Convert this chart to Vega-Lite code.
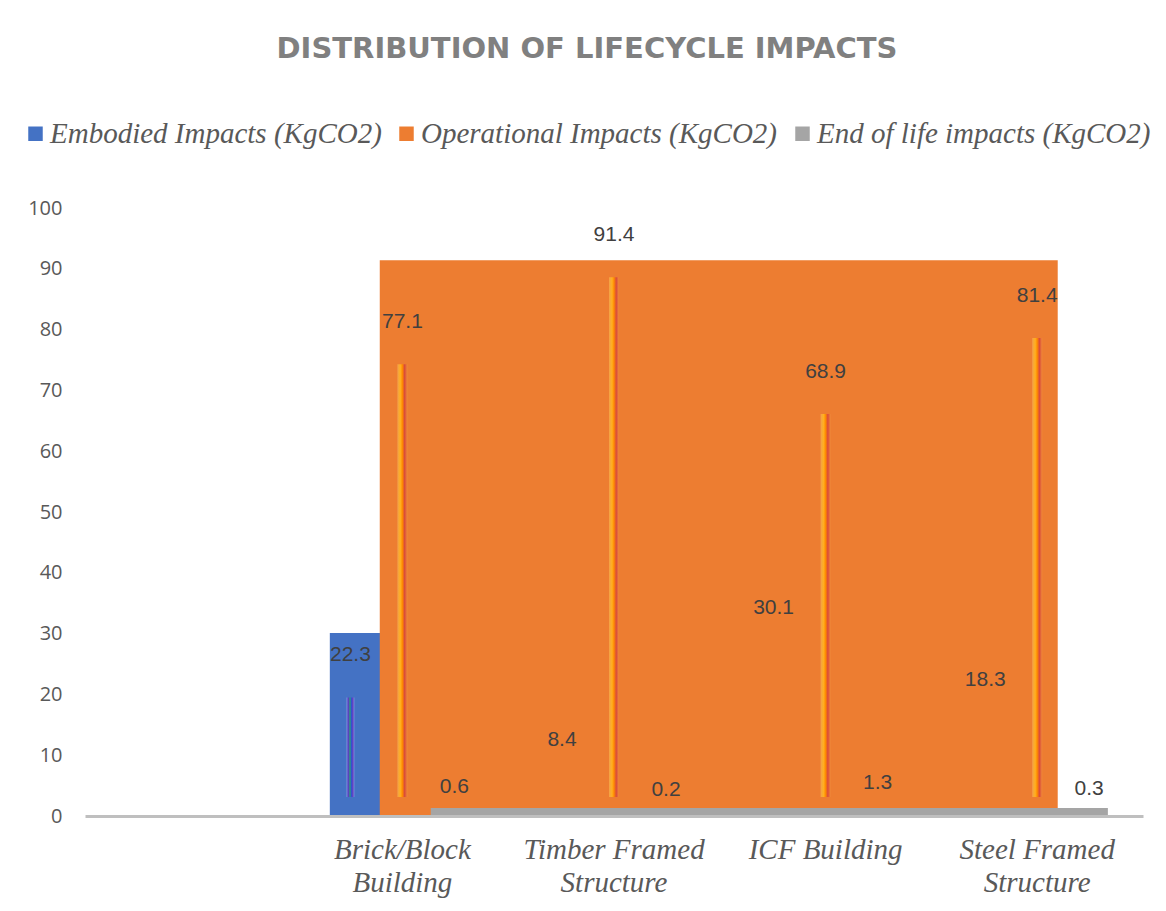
{
  "$schema": "https://vega.github.io/schema/vega-lite/v6.json",
  "width": 1058,
  "height": 608,
  "autosize": {"type": "none"},
  "padding": {"left": 85, "top": 208, "right": 23, "bottom": 95},
  "background": "white",
  "title": {
    "text": "DISTRIBUTION OF LIFECYCLE IMPACTS",
    "font": "DejaVu Sans",
    "fontSize": 29,
    "fontWeight": "bold",
    "color": "#808080",
    "anchor": "middle",
    "dx": -27,
    "offset": 55
  },
  "data": {
    "values": [
      {"building": "Brick/Block Building", "series": "Embodied Impacts (KgCO2)", "value": 22.3},
      {"building": "Brick/Block Building", "series": "Operational Impacts (KgCO2)", "value": 77.1},
      {"building": "Brick/Block Building", "series": "End of life impacts (KgCO2)", "value": 0.6},
      {"building": "Timber Framed Structure", "series": "Embodied Impacts (KgCO2)", "value": 8.4},
      {"building": "Timber Framed Structure", "series": "Operational Impacts (KgCO2)", "value": 91.4},
      {"building": "Timber Framed Structure", "series": "End of life impacts (KgCO2)", "value": 0.2},
      {"building": "ICF Building", "series": "Embodied Impacts (KgCO2)", "value": 30.1},
      {"building": "ICF Building", "series": "Operational Impacts (KgCO2)", "value": 68.9},
      {"building": "ICF Building", "series": "End of life impacts (KgCO2)", "value": 1.3},
      {"building": "Steel Framed Structure", "series": "Embodied Impacts (KgCO2)", "value": 18.3},
      {"building": "Steel Framed Structure", "series": "Operational Impacts (KgCO2)", "value": 81.4},
      {"building": "Steel Framed Structure", "series": "End of life impacts (KgCO2)", "value": 0.3}
    ]
  },
  "config": {
    "view": {"stroke": null},
    "axisX": {
      "ticks": false, "grid": false, "domainColor": "#BFBFBF", "domainWidth": 3,
      "labelAngle": 0, "labelFont": "Liberation Serif", "labelFontStyle": "italic",
      "labelFontSize": 29, "labelColor": "#595959", "labelPadding": 19, "labelLineHeight": 33,
      "labelLimit": 400
    },
    "axisY": {
      "ticks": false, "grid": false, "domain": false, "labelPadding": 23,
      "labelFont": "Open Sans", "labelFontSize": 20, "labelColor": "#595959"
    },
    "legend": {
      "orient": "none", "legendX": -64, "legendY": -89, "direction": "horizontal",
      "symbolType": "square", "symbolSize": 210, "symbolStrokeWidth": 0,
      "labelFont": "Liberation Serif", "labelFontStyle": "italic", "labelFontSize": 29,
      "labelColor": "#595959", "labelLimit": 600, "columnPadding": 10, "labelOffset": 0
    }
  },
  "layer": [
    {
      "transform": [
        {"filter": "datum.series === 'Embodied Impacts (KgCO2)'"},
        {"aggregate": [{"op": "max", "field": "value", "as": "maxv"}], "groupby": ["series"]}
      ],
      "mark": {"type": "rect"},
      "encoding": {
        "x": {"datum": "Brick/Block Building", "type": "nominal", "bandPosition": 0.157,
              "scale": {"domain": ["", "Brick/Block Building", "Timber Framed Structure", "ICF Building", "Steel Framed Structure"], "paddingInner": 0, "paddingOuter": 0},
              "axis": {"title": null, "labelExpr": "datum.value == 'Brick/Block Building' ? ['Brick/Block', 'Building'] : datum.value == 'Timber Framed Structure' ? ['Timber Framed', 'Structure'] : datum.value == 'Steel Framed Structure' ? ['Steel Framed', 'Structure'] : datum.value"}},
        "x2": {"datum": "Steel Framed Structure", "bandPosition": 0.361},
        "y": {"field": "maxv", "type": "quantitative", "scale": {"domain": [0, 100]}, "axis": {"title": null, "values": [0, 10, 20, 30, 40, 50, 60, 70, 80, 90, 100]}},
        "y2": {"datum": 0},
        "color": {"field": "series", "type": "nominal", "title": null,
                  "scale": {"domain": ["Embodied Impacts (KgCO2)", "Operational Impacts (KgCO2)", "End of life impacts (KgCO2)"], "range": ["#4472C4", "#ED7D31", "#A5A5A5"]}}
      }
    },
    {
      "transform": [{"filter": "datum.series === 'Embodied Impacts (KgCO2)'"}],
      "mark": {"type": "bar", "width": 8, "yOffset": 17, "y2Offset": -19,
               "fill": {"gradient": "linear", "x1": 0, "y1": 0, "x2": 1, "y2": 0,
                        "stops": [{"offset": 0, "color": "#7a8fdc"}, {"offset": 0.25, "color": "#5b3fc0"}, {"offset": 0.45, "color": "#2ea07a"}, {"offset": 0.62, "color": "#2f52d0"}, {"offset": 0.8, "color": "#6a40c0"}, {"offset": 1, "color": "#7a8fdc"}]}},
      "encoding": {
        "x": {"field": "building", "type": "nominal"},
        "xOffset": {"field": "series", "type": "nominal", "scale": {"domain": ["Embodied Impacts (KgCO2)", "Operational Impacts (KgCO2)", "End of life impacts (KgCO2)"], "paddingInner": 0, "paddingOuter": 0.535}},
        "y": {"field": "value", "type": "quantitative"},
        "y2": {"datum": 0}
      }
    },
    {
      "transform": [
        {"filter": "datum.series === 'Operational Impacts (KgCO2)'"},
        {"aggregate": [{"op": "max", "field": "value", "as": "maxv"}], "groupby": ["series"]}
      ],
      "mark": {"type": "rect"},
      "encoding": {
        "x": {"datum": "Brick/Block Building", "type": "nominal", "bandPosition": 0.393},
        "x2": {"datum": "Steel Framed Structure", "bandPosition": 0.597},
        "y": {"field": "maxv", "type": "quantitative"},
        "y2": {"datum": 0},
        "color": {"field": "series", "type": "nominal"}
      }
    },
    {
      "transform": [{"filter": "datum.series === 'Operational Impacts (KgCO2)'"}],
      "mark": {"type": "bar", "width": 10, "yOffset": 17, "y2Offset": -19,
               "fill": {"gradient": "linear", "x1": 0, "y1": 0, "x2": 1, "y2": 0,
                        "stops": [{"offset": 0, "color": "#f2a04a"}, {"offset": 0.3, "color": "#ffb020"}, {"offset": 0.5, "color": "#ff8a00"}, {"offset": 0.72, "color": "#d94a3a"}, {"offset": 1, "color": "#f08a3a"}]}},
      "encoding": {
        "x": {"field": "building", "type": "nominal"},
        "xOffset": {"field": "series", "type": "nominal"},
        "y": {"field": "value", "type": "quantitative"},
        "y2": {"datum": 0}
      }
    },
    {
      "transform": [
        {"filter": "datum.series === 'End of life impacts (KgCO2)'"},
        {"aggregate": [{"op": "max", "field": "value", "as": "maxv"}], "groupby": ["series"]}
      ],
      "mark": {"type": "rect"},
      "encoding": {
        "x": {"datum": "Brick/Block Building", "type": "nominal", "bandPosition": 0.634},
        "x2": {"datum": "Steel Framed Structure", "bandPosition": 0.834},
        "y": {"field": "maxv", "type": "quantitative"},
        "y2": {"datum": 0},
        "color": {"field": "series", "type": "nominal"}
      }
    },
    {
      "mark": {"type": "text", "font": "Liberation Sans", "fontSize": 21, "color": "#404040", "baseline": "middle", "dy": -25},
      "encoding": {
        "x": {"field": "building", "type": "nominal"},
        "xOffset": {"field": "series", "type": "nominal"},
        "y": {"field": "value", "type": "quantitative"},
        "text": {"field": "value", "type": "quantitative", "format": ".1f"}
      }
    }
  ]
}
